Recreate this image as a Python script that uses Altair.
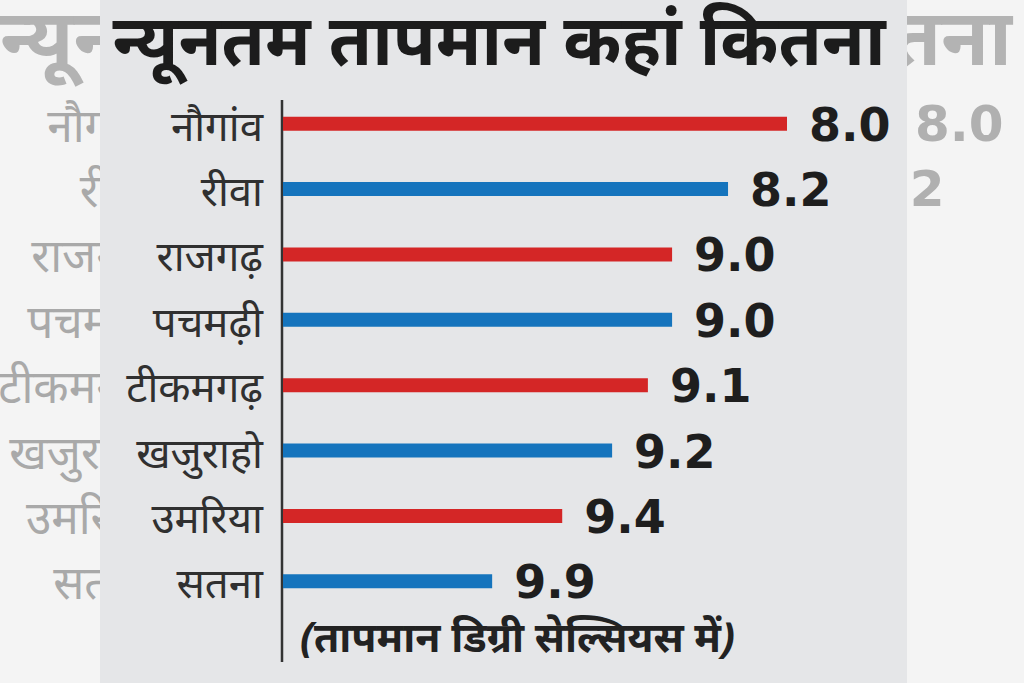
import altair as alt
import pandas as pd

TITLE = "न्यूनतम तापमान कहां कितना"
FOOTNOTE = "(तापमान डिग्री सेल्सियस में)"
cities = ["नौगांव", "रीवा", "राजगढ़", "पचमढ़ी", "टीकमगढ़", "खजुराहो", "उमरिया", "सतना"]
temps = [8.0, 8.2, 9.0, 9.0, 9.1, 9.2, 9.4, 9.9]
# drawn bar lengths, relative (longest = 100)
bar_len = [100, 88.3, 77.2, 77.2, 72.4, 65.3, 55.4, 41.5]

df = pd.DataFrame({"city": cities, "temp": temps, "len": bar_len})
df["band"] = ["a" if i % 2 == 0 else "b" for i in range(len(df))]
one = pd.DataFrame({"k": [0]})

RED = "#d42626"
BLUE = "#1574bd"
PANEL = "#e5e6e8"
SIDE = "#f4f4f4"
GHOST = "#a9a9a9"
DEV_FONT = "Noto Sans"
NUM_FONT = "DejaVu Sans"

yenc = alt.Y("city:N", sort=cities, axis=None,
             scale=alt.Scale(domain=cities, range=[91, 614], paddingInner=0, paddingOuter=0))
xenc = alt.X("len:Q", axis=None, scale=alt.Scale(domain=[0, 100], range=[283, 787]))

base = alt.Chart(df)

# ghost (blurred background) copies of the graphic, mostly hidden behind the panel
ghost_title_l = alt.Chart(one).mark_text(text=TITLE, font=DEV_FONT, fontWeight="bold", fontSize=78,
                                         color="#b3b3b3", align="left", baseline="middle").encode(
    x=alt.value(0), y=alt.value(42))
ghost_title_r = alt.Chart(one).mark_text(text=TITLE, font=DEV_FONT, fontWeight="bold", fontSize=78,
                                         color="#b3b3b3", align="right", baseline="middle").encode(
    x=alt.value(1012), y=alt.value(42))
ghost_labels = base.mark_text(font=DEV_FONT, fontSize=46, color=GHOST, align="right",
                              baseline="middle", dy=4).encode(
    y=yenc, x=alt.value(148), text="city:N")
ghost_values = base.mark_text(font=NUM_FONT, fontWeight="bold", fontSize=50, color="#b0b0b0",
                              align="left", baseline="middle", dx=128, dy=2).encode(
    y=yenc, x=xenc, text=alt.Text("temp:Q", format=".1f"))

panel = alt.Chart(one).mark_rect(color=PANEL).encode(
    x=alt.value(100), x2=alt.value(907), y=alt.value(0), y2=alt.value(683))

title = alt.Chart(one).mark_text(text=TITLE, font=DEV_FONT, fontWeight="bold", fontSize=70,
                                 color="#1c1c1c", align="center", baseline="middle").encode(
    x=alt.value(499), y=alt.value(44))

axis_line = alt.Chart(one).mark_rule(color="#333333", strokeWidth=2.5).encode(
    x=alt.value(282), y=alt.value(100), y2=alt.value(662))

bars = base.mark_bar(size=14).encode(
    y=yenc, x=xenc, x2=alt.datum(0),
    color=alt.Color("band:N", scale=alt.Scale(domain=["a", "b"], range=[RED, BLUE]), legend=None))

labels = base.mark_text(font=DEV_FONT, fontSize=42, color="#303030", align="right",
                        baseline="middle", dy=4).encode(
    y=yenc, x=alt.value(263), text="city:N")

values = base.mark_text(font=NUM_FONT, fontWeight="bold", fontSize=46, color="#1e1e1e",
                        align="left", baseline="middle", dx=22, dy=3).encode(
    y=yenc, x=xenc, text=alt.Text("temp:Q", format=".1f"))

foot = alt.Chart(one).mark_text(text=FOOTNOTE, font=DEV_FONT, fontWeight="bold", fontStyle="italic",
                                fontSize=41, color="#222222", align="left", baseline="middle").encode(
    x=alt.value(300), y=alt.value(640))

chart = alt.layer(ghost_title_l, ghost_title_r, ghost_labels, ghost_values, panel, title, axis_line,
                  bars, labels, values, foot).properties(
    width=1024, height=683, padding=0, autosize=alt.AutoSizeParams(type="none"),
    background=SIDE
).configure_view(stroke=None)

chart.save("out.html", embed_options={"renderer": "svg", "actions": False})
